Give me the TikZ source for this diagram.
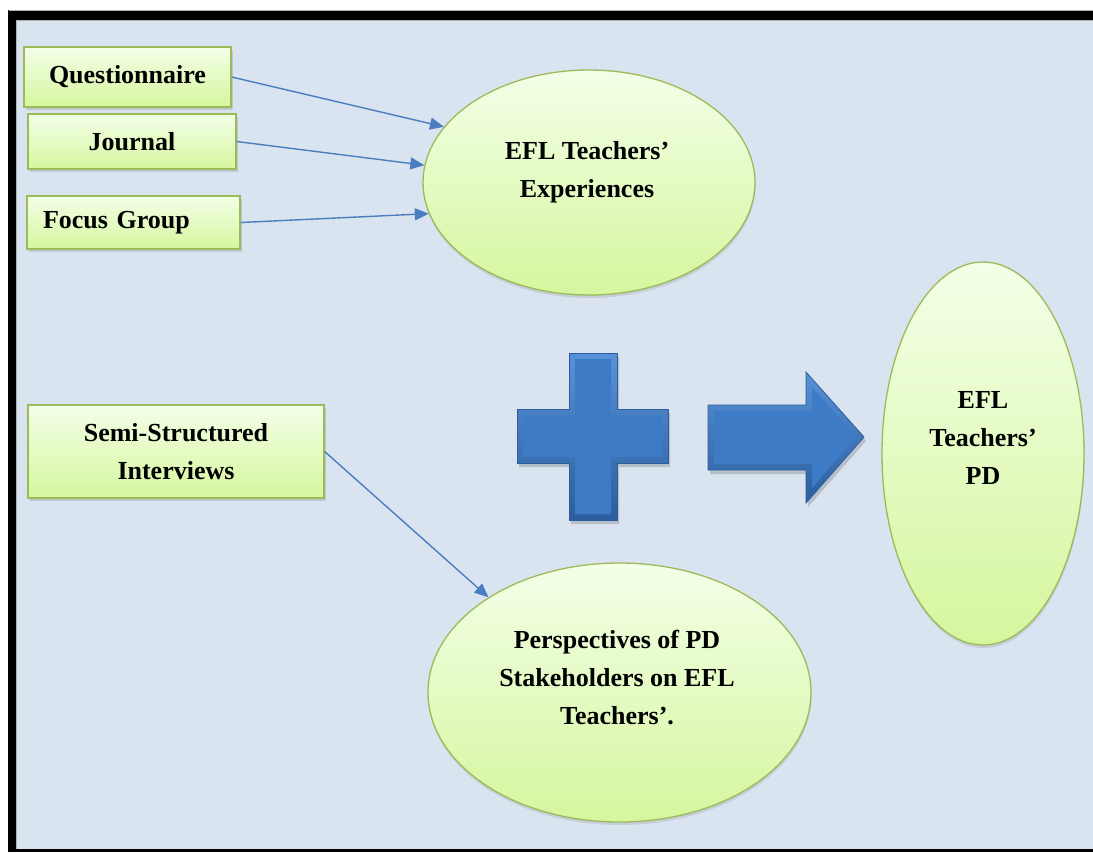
\documentclass[tikz,border=0pt]{standalone}
\usepackage{fontspec}
\setmainfont{Liberation Serif}
\usetikzlibrary{shapes.geometric,arrows.meta,shadows}

\definecolor{panel}{RGB}{218,227,240}
\definecolor{leafedge}{RGB}{155,187,89}
\definecolor{leaftop}{RGB}{243,255,232}
\definecolor{leafbot}{RGB}{214,246,158}
\definecolor{linkblue}{RGB}{74,126,193}
\definecolor{blocklight}{RGB}{88,146,214}
\definecolor{blockdark}{RGB}{44,94,158}
\definecolor{blockface}{RGB}{62,123,198}

\tikzset{
  base/.style={font=\fontsize{26}{38}\selectfont\bfseries, text=black},
  srcbox/.style={base, rectangle, draw=leafedge, line width=1.3pt,
    top color=leaftop, bottom color=leafbot, inner sep=0pt, align=center,
    drop shadow={opacity=0.28, shadow xshift=1.5pt, shadow yshift=-2.5pt}},
  bubble/.style={ellipse, draw=leafedge, line width=1.3pt,
    top color=leaftop, bottom color=leafbot, inner sep=0pt,
    drop shadow={opacity=0.22, shadow xshift=0.5pt, shadow yshift=-3pt}},
  bubbletext/.style={base, align=center, inner sep=0pt},
  link/.style={draw=linkblue, line width=1.4pt, -{Triangle[length=14pt,width=12pt]}},
  blockrim/.style={top color=blocklight, bottom color=blockdark},
  blockline/.style={draw=blockdark, line width=0.8pt},
}

\begin{document}
\begin{tikzpicture}[x=1pt,y=-1pt]
  \useasboundingbox (0,0) rectangle (1093,852);

  % frame and panel
  \fill[white] (0,0) rectangle (1093,852);
  \fill[black] (8,10) rectangle (1093,852);
  \draw[gray!60, line width=1pt] (8.5,10.5) -- (1093,10.5);
  \fill[panel] (16,20) rectangle (1093,849);
  \draw[gray!60, line width=1pt] (16.5,849) -- (16.5,20.5) -- (1093,20.5);

  % data sources
  \node[srcbox, minimum width=207pt, minimum height=60pt] (q) at (127.5,77) {Questionnaire};
  \node[srcbox, minimum width=208pt, minimum height=55pt] (j) at (132,141.5) {Journal};
  \node[srcbox, text width=181pt, inner xsep=16pt, align=left, minimum height=53pt] (f) at (133.5,222.5) {Focus Group};
  \node[srcbox, minimum width=296pt, minimum height=93pt] (semi) at (176,451.5) {Semi-Structured\\Interviews};

  % outcome bubbles
  \node[bubble, minimum width=332pt, minimum height=225pt] (exp) at (589,182.5) {};
  \node[bubbletext] (expt) at (587,172) {EFL Teachers’\\Experiences};

  \node[bubble, minimum width=202pt, minimum height=383pt] (pd) at (983,453.5) {};
  \node[bubbletext] (pdt) at (983,438.5) {EFL\\Teachers’\\PD};

  \node[bubble, minimum width=383pt, minimum height=259pt] (persp) at (619.5,692.5) {};
  \node[bubbletext] (perspt) at (617,678) {Perspectives of PD\\Stakeholders on EFL\\Teachers’.};

  % connectors
  \draw[link] (q.east) -- (exp.159);
  \draw[link] (j.east) -- (exp.174);
  \draw[link] (f.east) -- (exp.191);
  \draw[link] (semi.east) -- (persp.144);

  % plus sign
  \fill[black, opacity=0.16] (571,357) -- (619,357) -- (619,413) -- (670,413) -- (670,467) -- (619,467) -- (619,524) -- (571,524) -- (571,467) -- (519,467) -- (519,413) -- (571,413) -- cycle;
  \path[blockrim, blockline] (569,353) -- (617,353) -- (617,409) -- (668,409) -- (668,463) -- (617,463) -- (617,520) -- (569,520) -- (569,463) -- (517,463) -- (517,409) -- (569,409) -- cycle;
  \fill[blockface] (575,359) -- (611,359) -- (611,415) -- (662,415) -- (662,457) -- (611,457) -- (611,514) -- (575,514) -- (575,457) -- (523,457) -- (523,415) -- (575,415) -- cycle;

  % block arrow
  \fill[black, opacity=0.16] (710,409) -- (808,409) -- (808,376) -- (866,441) -- (808,507) -- (808,474) -- (710,474) -- cycle;
  \path[blockrim, blockline] (708,405) -- (806,405) -- (806,372) -- (864,437) -- (806,503) -- (806,470) -- (708,470) -- cycle;
  \fill[blockface] (714,411) -- (812,411) -- (812,387) -- (856,437) -- (812,488) -- (812,464) -- (714,464) -- cycle;
\end{tikzpicture}
\end{document}
